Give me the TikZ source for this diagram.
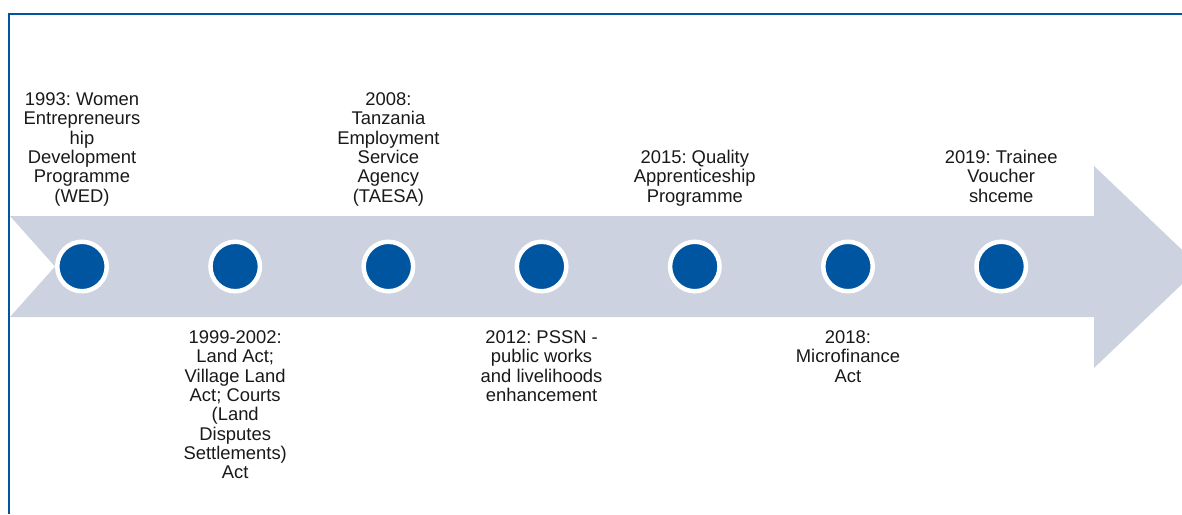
\documentclass[tikz,border=0pt]{standalone}
\usepackage{fontspec}
\setmainfont{Liberation Sans}
\usetikzlibrary{positioning}
\definecolor{TlBlue}{RGB}{0,85,160}
\definecolor{TlBand}{RGB}{204,210,224}
\definecolor{TlInk}{gray}{0.1}
\frenchspacing

\begin{document}
\begin{tikzpicture}[x=1pt,y=-1pt,
  dot/.style={circle,fill=TlBlue,draw=white,line width=4.5pt,minimum size=49.5pt,inner sep=0pt},
  event/.style={align=center,inner sep=0pt,text=TlInk,font=\fontsize{18.4}{19.3}\selectfont,
    execute at begin node=\strut,execute at end node=\strut},
  node distance=99.2pt]
  \useasboundingbox (0,0) rectangle (1182,514);
  \clip (0,0) rectangle (1182,514);
  % timeline band
  \fill[TlBand] (10,216) -- (1094,216) -- (1094,166) -- (1200,267) -- (1094,368)
    -- (1094,317) -- (10,317) -- (55,266.5) -- cycle;
  % frame
  \draw[TlBlue,line width=2pt] (9,514) -- (9,14) -- (1182,14);
  % milestones
  \node[dot] (d1993) at (82,266.5) {};
  \node[dot,right=of d1993] (d1999) {};
  \node[dot,right=of d1999] (d2008) {};
  \node[dot,right=of d2008] (d2012) {};
  \node[dot,right=of d2012] (d2015) {};
  \node[dot,right=of d2015] (d2018) {};
  \node[dot,right=of d2018] (d2019) {};
  % labels above
  \node[event,above=31.5pt of d1993] (t1993) {1993: Women\\Entrepreneurs\\hip\\Development\\Programme\\(WED)};
  \node[event,above=31.5pt of d2008] (t2008) {2008:\\Tanzania\\Employment\\Service\\Agency\\(TAESA)};
  \node[event,above=31.5pt of d2015] (t2015) {2015: Quality\\Apprenticeship\\Programme};
  \node[event,above=31.5pt of d2019] (t2019) {2019: Trainee\\Voucher\\shceme};
  % labels below
  \node[event,below=37pt of d1999] (t1999) {1999-2002:\\Land Act;\\Village Land\\Act; Courts\\(Land\\Disputes\\Settlements)\\Act};
  \node[event,below=37pt of d2012] (t2012) {2012: PSSN -\\public works\\and livelihoods\\enhancement};
  \node[event,below=37pt of d2018] (t2018) {2018:\\Microfinance\\Act};
\end{tikzpicture}
\end{document}
